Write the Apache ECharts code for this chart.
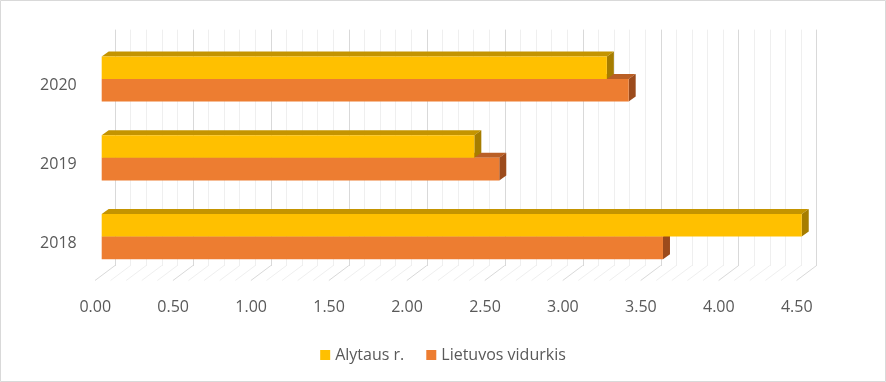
<!DOCTYPE html>
<html>
<head>
<meta charset="utf-8">
<script src="https://cdn.jsdelivr.net/npm/echarts@6/dist/echarts.min.js"></script>
<style>
html,body{margin:0;padding:0;background:#fff;}
#c{width:886px;height:382px;}
</style>
</head>
<body>
<div id="c"></div>
<script>
const categories = ['2018', '2019', '2020'];
const seriesNames = ['Alytaus r.', 'Lietuvos vidurkis'];
const alytaus = [4.49, 2.39, 3.24];
const lietuvos = [3.60, 2.55, 3.38];
const axisMin = 0, axisMax = 4.5, axisInterval = 0.5;
const floorTicks = Array.from({length: 46}, (_, i) => +(i * 0.1).toFixed(1));

const FONT = '"Open Sans", sans-serif';
const TXT = '#595959';
// oblique depth offsets relative to the bar front plane
const FLOOR_FRONT = [-6.7, 4.5];
const FLOOR_BACK = [13.3, -10.5];
const BAR_DEPTH = [7, -5];

const palette = {
  yellow: {front: '#FFC000', top: '#C49400', side: '#A67D00'},
  orange: {front: '#ED7D31', top: '#BA5F25', side: '#9C4B1C'}
};

function barRender(colors, upper) {
  return function (params, api) {
    const v = api.value(0), c = api.value(1);
    const end = api.coord([v, c]);
    const start = api.coord([0, c]);
    const band = api.size([0, 1])[1];
    const h = band * 0.287;
    const y0 = upper ? end[1] - h : end[1];
    const x0 = start[0], x1 = end[0];
    const dx = BAR_DEPTH[0], dy = BAR_DEPTH[1];
    return {
      type: 'group',
      children: [
        {type: 'polygon', shape: {points: [[x0, y0], [x1, y0], [x1 + dx, y0 + dy], [x0 + dx, y0 + dy]]},
         style: {fill: colors.top}},
        {type: 'polygon', shape: {points: [[x1, y0], [x1, y0 + h], [x1 + dx, y0 + h + dy], [x1 + dx, y0 + dy]]},
         style: {fill: colors.side}},
        {type: 'rect', shape: {x: x0, y: y0, width: x1 - x0, height: h},
         style: {fill: colors.front}}
      ]
    };
  };
}

const chart = echarts.init(document.getElementById('c'), null, {renderer: 'canvas'});
chart.setOption({
  animation: false,
  backgroundColor: '#fff',
  graphic: [{type: 'rect', shape: {x: 0.5, y: 0.5, width: 885, height: 381},
    style: {fill: 'none', stroke: '#d9d9d9', lineWidth: 1}, z: -10}],
  legend: {
    data: seriesNames,
    top: 342, left: 'center',
    icon: 'rect', itemWidth: 10, itemHeight: 10, itemGap: 22,
    textStyle: {fontFamily: FONT, fontSize: 16, color: TXT}
  },
  grid: [
    {left: 101.7, right: 82.7, top: 39.6, bottom: 106},
    {left: 115, right: 69.3, top: 29.6, bottom: 116}
  ],
  xAxis: [
    {type: 'value', gridIndex: 0, min: axisMin, max: axisMax, interval: axisInterval,
     axisLine: {show: false}, axisTick: {show: false}, splitLine: {show: false},
     axisLabel: {margin: 23, padding: [0, 13, 0, 0], fontFamily: FONT, fontSize: 16, color: TXT,
       formatter: v => v.toFixed(2)}},
    {type: 'value', gridIndex: 1, min: axisMin, max: axisMax, interval: axisInterval,
     axisLine: {show: false}, axisTick: {show: false}, axisLabel: {show: false},
     minorTick: {show: false, splitNumber: 5},
     splitLine: {show: true, lineStyle: {color: '#d9d9d9', width: 1}},
     minorSplitLine: {show: true, lineStyle: {color: '#efefef', width: 1}}}
  ],
  yAxis: [
    {type: 'category', gridIndex: 0, data: categories,
     axisLine: {show: false}, axisTick: {show: false}, splitLine: {show: false},
     axisLabel: {margin: 25, fontFamily: FONT, fontSize: 16, color: TXT,
       formatter: v => '{a|' + v + '}',
       rich: {a: {fontFamily: FONT, fontSize: 16, color: TXT, padding: [13, 0, 0, 0]}}}},
    {type: 'value', gridIndex: 1, show: false, splitLine: {show: false}}
  ],
  series: [
    {
      type: 'custom', name: 'floor', xAxisIndex: 0, yAxisIndex: 0, silent: true, z: 1,
      data: floorTicks.map(t => [t, 0]),
      encode: {x: 0, y: 1},
      renderItem: function (params, api) {
        const t = api.value(0);
        const p = api.coord([t, 0]);
        const bottom = params.coordSys.y + params.coordSys.height;
        const major = Math.abs(t / axisInterval - Math.round(t / axisInterval)) < 1e-6;
        return {type: 'line',
          shape: {x1: p[0] + FLOOR_FRONT[0], y1: bottom + FLOOR_FRONT[1],
                  x2: p[0] + FLOOR_BACK[0], y2: bottom + FLOOR_BACK[1]},
          style: {stroke: major ? '#d9d9d9' : '#efefef', lineWidth: 1}};
      }
    },
    {
      type: 'custom', name: seriesNames[1], xAxisIndex: 0, yAxisIndex: 0, z: 3,
      itemStyle: {color: palette.orange.front},
      data: lietuvos.map((v, i) => [v, i]),
      encode: {x: 0, y: 1},
      renderItem: barRender(palette.orange, false)
    },
    {
      type: 'custom', name: seriesNames[0], xAxisIndex: 0, yAxisIndex: 0, z: 4,
      itemStyle: {color: palette.yellow.front},
      data: alytaus.map((v, i) => [v, i]),
      encode: {x: 0, y: 1},
      renderItem: barRender(palette.yellow, true)
    }
  ]
});
</script>
</body>
</html>
